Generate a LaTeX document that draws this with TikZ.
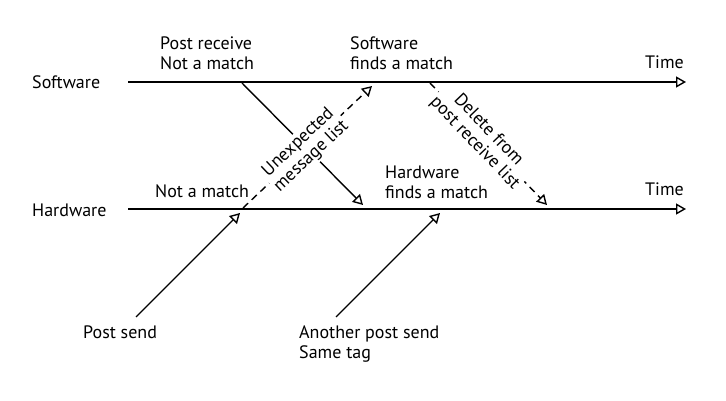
\documentclass[tikz,border=0pt]{standalone}
\usepackage{fontspec}
\setmainfont{PT Sans}
\usetikzlibrary{arrows.meta}
\begin{document}
\begin{tikzpicture}[x=1pt,y=-1pt,
  lbl/.style={anchor=base west, inner sep=0pt, align=left, font=\fontsize{18}{20}\selectfont},
  timeline/.style={line width=1.6pt, -{Triangle[open, length=10pt, width=11pt, line width=1.4pt]}},
  msg/.style={line width=1.4pt, -{Triangle[open, length=10pt, width=11pt, line width=1.4pt]}},
  dmsg/.style={msg, dash pattern=on 7pt off 5pt},
  slab/.style={sloped, fill=white, inner sep=1.5pt, align=center, font=\fontsize{18}{19}\selectfont}]
\useasboundingbox (0,0) rectangle (726,401);
\coordinate (sw0) at (128,82);  \coordinate (sw1) at (686,82);
\coordinate (hw0) at (128,209); \coordinate (hw1) at (686,209);
\coordinate (pr0) at (242,83);  \coordinate (pr1) at (363,205);
\coordinate (um0) at (243,208); \coordinate (um1) at (372,86);
\coordinate (dl0) at (430,83);  \coordinate (dl1) at (547,205);
\coordinate (ps0) at (136,317); \coordinate (ps1) at (240,213);
\coordinate (aps0) at (336,317); \coordinate (aps1) at (440,213);
% messages
\draw[msg] (pr0) -- (pr1);
\draw[msg] (ps0) -- (ps1);
\draw[msg] (aps0) -- (aps1);
\draw[dmsg] (um0) -- node[slab, pos=0.48] (uml) {Unexpected\\message list} (um1);
\draw[dmsg] (dl0) -- node[slab, pos=0.44] (dll) {Delete from\\post receive list} (dl1);
% time lines (drawn on top of the label fills)
\draw[timeline] (sw0) -- (sw1);
\draw[timeline] (hw0) -- (hw1);
% labels
\node[lbl] (swl) at (32,89) {Software};
\node[lbl] (hwl) at (32,216) {Hardware};
\node[lbl] (t1) at (645,69) {Time};
\node[lbl] (t2) at (645,196) {Time};
\node[lbl] (prl) at (160,70) {Post receive\\Not a match};
\node[lbl] (sfl) at (350,70) {Software\\finds a match};
\node[lbl] (nml) at (155,197) {Not a match};
\node[lbl] (hfl) at (385,198) {Hardware\\finds a match};
\node[lbl] (psl) at (83,338) {Post send};
\node[lbl] (apl) at (299,358) {Another post send\\Same tag};
\end{tikzpicture}
\end{document}
